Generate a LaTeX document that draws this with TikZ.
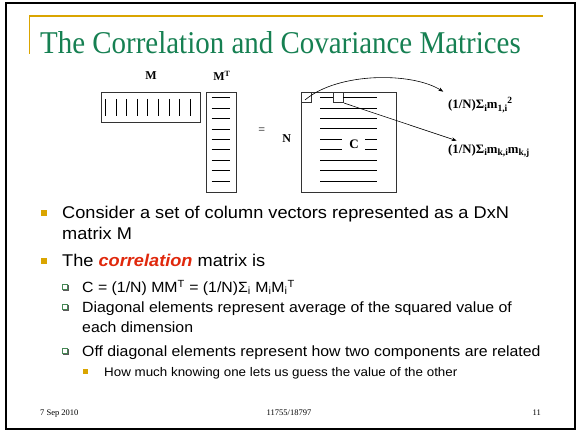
\documentclass[tikz,border=0pt]{standalone}
\usepackage{fontspec}
\setmainfont{Liberation Serif}
\newfontfamily\bodyfont[FakeStretch=1.07]{Liberation Sans}
\usetikzlibrary{arrows.meta,shadows}

\definecolor{titlegreen}{RGB}{22,128,82}
\definecolor{gold}{RGB}{218,165,0}
\definecolor{accentred}{RGB}{224,40,12}
\definecolor{boxgreen}{RGB}{70,135,85}

% indices of the element formulas, a little larger than \textsubscript
\newcommand{\elsub}[1]{\raisebox{-2.6pt}{\fontsize{9.5}{10}\selectfont #1}}
\newcommand{\elsup}[1]{\raisebox{5pt}{\fontsize{9.5}{10}\selectfont #1}}

\tikzset{
  matbox/.style={draw=black!80, line width=0.9pt, inner sep=0pt, anchor=north west},
  rule/.style={draw=black, line width=0.8pt},
  cellbox/.style={draw=black!80, line width=0.8pt, minimum size=10pt, inner sep=0pt, anchor=north west},
  maplabel/.style={font=\fontsize{12}{14}\selectfont\bfseries, inner sep=0pt},
  formula/.style={font=\fontsize{12.8}{14}\selectfont\bfseries, inner sep=0pt, anchor=west},
  pointer/.style={-{Stealth[length=5pt,width=3.6pt]}, line width=0.6pt},
  bodytext/.style={font=\bodyfont\fontsize{17}{20}\selectfont, anchor=base west, inner sep=0pt},
  subtext/.style={font=\bodyfont\fontsize{14.8}{18}\selectfont, anchor=base west, inner sep=0pt},
  subsubtext/.style={font=\bodyfont\fontsize{12.5}{15}\selectfont, anchor=base west, inner sep=0pt},
  goldbullet/.style={fill=gold, minimum size=6pt, inner sep=0pt},
  smallgold/.style={fill=gold, minimum size=5pt, inner sep=0pt},
  hollowbullet/.style={draw=boxgreen, fill=white, minimum size=5.5pt, inner sep=0pt, line width=0.6pt,
    drop shadow={shadow xshift=0.9pt, shadow yshift=-0.9pt, fill=black!65, opacity=1}},
  footer/.style={font=\fontsize{8.5}{10}\selectfont, inner sep=0pt, anchor=base},
}

\begin{document}
\begin{tikzpicture}[x=1pt, y=-1pt]
  % page and frame
  \fill[white] (0,0) rectangle (581,435);
  \useasboundingbox (0,0) rectangle (581,435);
  \draw[line width=2pt] (6,3) rectangle (575,429);

  % title with gold rule
  \draw[gold, line width=1.4pt] (29.3,54) -- (29.3,16) -- (543.3,16);
  \node[anchor=base west, inner sep=0pt, text=titlegreen,
        font=\fontsize{31.7}{32}\selectfont] (title) at (40,54)
        {\scalebox{0.913}[1]{The Correlation and Covariance Matrices}};

  % matrix M (D x N), drawn as column vectors
  \node[maplabel] (lblM) at (151,76) {M};
  \node[matbox, minimum width=99.6pt, minimum height=30pt] (M) at (100.7,92.3) {};
  \foreach \k in {0,...,8}
    \draw[rule] ({105.7+10.54*\k},99) -- ({105.7+10.54*\k},116);

  % matrix M^T
  \node[maplabel] (lblMT) at (222,76) {M\textsuperscript{T}};
  \node[matbox, minimum width=30pt, minimum height=99.4pt] (MT) at (205.7,92.3) {};
  \foreach \k in {0,...,8}
    \draw[rule] (211.7,{97.7+10.41*\k}) -- (230,{97.7+10.41*\k});

  \node[font=\fontsize{12}{14}\selectfont, inner sep=0pt] (eq) at (261.7,131) {=};
  \node[maplabel] (lblN) at (286.7,139) {N};

  % result matrix C
  \node[matbox, minimum width=95pt, minimum height=99.4pt] (C) at (300.7,92.3) {};
  \node[cellbox] (cell1) at (300.7,92.3) {};
  \node[cellbox] (cell2) at (333.3,92.3) {};
  \node[maplabel, font=\fontsize{13}{15}\selectfont\bfseries] (lblC) at (354,144) {C};
  \draw[rule] (320,97.7) -- (333.3,97.7) (343.3,97.7) -- (376.7,97.7);
  \foreach \yy in {108.1,118.5,128.9}
    \draw[rule] (320,\yy) -- (376.7,\yy);
  \foreach \yy in {139.3,149.8}
    \draw[rule] (320,\yy) -- (342,\yy) (365,\yy) -- (376.7,\yy);
  \foreach \yy in {160.2,170.6,181}
    \draw[rule] (320,\yy) -- (376.7,\yy);

  % element formulas
  \node[formula] (diag) at (448,105)
    {(1/N)Σ\elsub{i}m\elsub{1,i}\elsup{2}};
  \node[formula] (offdiag) at (448,151)
    {(1/N)Σ\elsub{i}m\elsub{k,i}m\elsub{k,j}};
  \coordinate (c1) at (305,100);
  \coordinate (a1) at (443.3,91.7);
  \coordinate (a2) at (456.7,140.7);
  \draw[pointer] (c1) .. controls (338,72) and (412,72) .. (a1);
  \draw[pointer] (cell2.south east) -- (a2);

  % bullet list
  \node[goldbullet] (b1) at (44,213) {};
  \node[bodytext] (t1) at (62,218.5) {Consider a set of column vectors represented as a DxN};
  \node[bodytext] (t1b) at (62,239.5) {matrix M};
  \node[goldbullet] (b2) at (44,261) {};
  \node[bodytext] (t2) at (62,266.5)
    {The \textcolor{accentred}{\bfseries\itshape correlation} matrix is};

  \node[hollowbullet] (s1) at (65,287) {};
  \node[subtext] (u1) at (82,292.3)
    {C = (1/N) MM\textsuperscript{T} = (1/N)Σ\textsubscript{i} M\textsubscript{i}M\textsubscript{i}\textsuperscript{T}};
  \node[hollowbullet] (s2) at (65,307) {};
  \node[subtext] (u2) at (82,312.3) {Diagonal elements represent average of the squared value of};
  \node[subtext] (u2b) at (82,332.3) {each dimension};
  \node[hollowbullet] (s3) at (65,351) {};
  \node[subtext] (u3) at (82,356.3) {Off diagonal elements represent how two components are related};
  \node[smallgold] (ss1) at (85,372) {};
  \node[subsubtext] (v1) at (104,376.5) {How much knowing one lets us guess the value of the other};

  % footer
  \node[footer, anchor=base west] (date) at (40,416) {7 Sep 2010};
  \node[footer] (course) at (289,416) {11755/18797};
  \node[footer, anchor=base east] (page) at (541,416) {11};
\end{tikzpicture}
\end{document}
